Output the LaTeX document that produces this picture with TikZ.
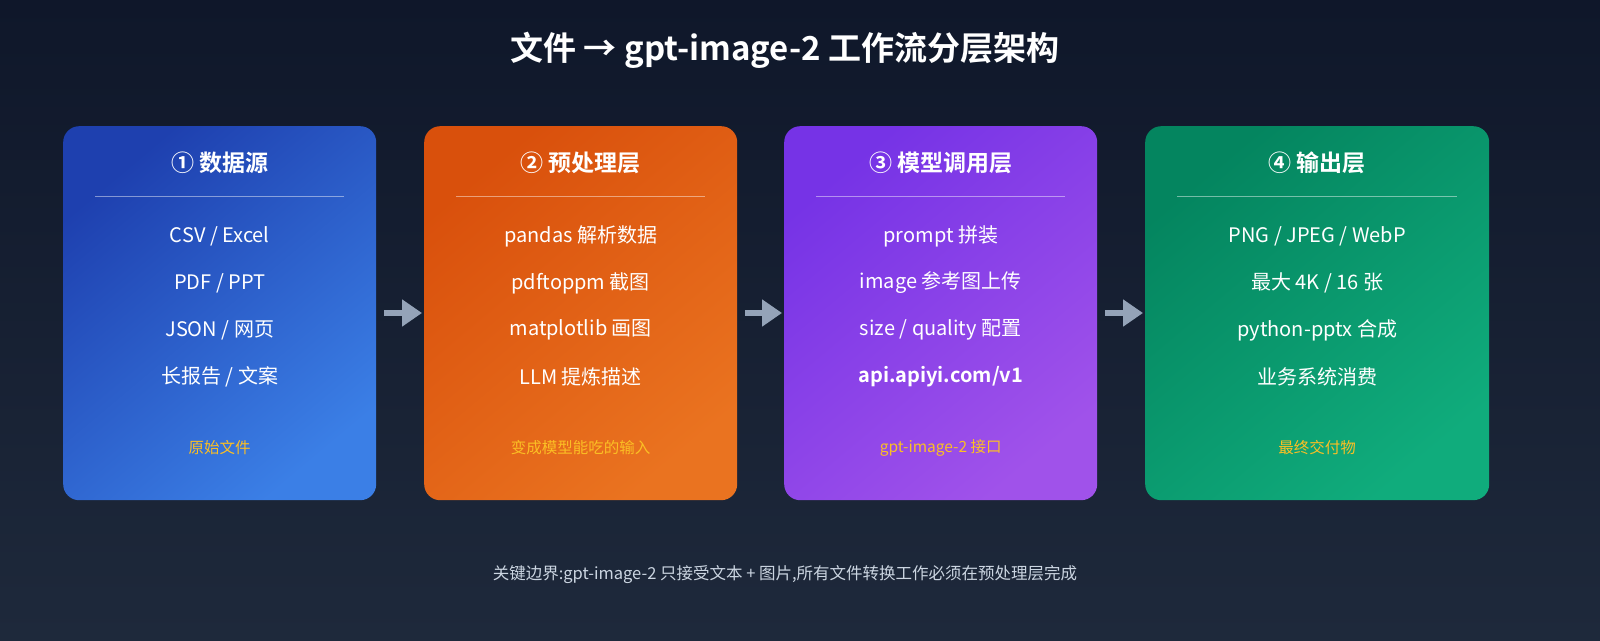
\documentclass[tikz,border=0pt]{standalone}
\usepackage{fontspec}
\setmainfont{Noto Sans CJK SC}[BoldFont={Noto Sans CJK SC Bold}]
\usetikzlibrary{arrows.meta}
\definecolor{bgA}{HTML}{0F172A}\definecolor{bgB}{HTML}{1E293B}
\definecolor{aA}{HTML}{1E40AF}\definecolor{aB}{HTML}{3B7FE6}
\definecolor{oA}{HTML}{D9500C}\definecolor{oB}{HTML}{EA7320}
\definecolor{pA}{HTML}{7633E6}\definecolor{pB}{HTML}{A052EA}
\definecolor{gA}{HTML}{04855F}\definecolor{gB}{HTML}{10AC7C}
\definecolor{ftc}{HTML}{FBBF24}\definecolor{arc}{HTML}{94A3B8}
\definecolor{note}{HTML}{CBD5E1}
\tikzset{
 box/.style={rounded corners=16pt,minimum height=374pt,anchor=north west,inner sep=0pt},
 head/.style={text=white,font=\fontsize{23}{27}\selectfont\bfseries},
 item/.style={text=white,font=\fontsize{20}{24}\selectfont},
 foot/.style={text=ftc,font=\fontsize{15.5}{18}\selectfont},
 sep/.style={draw=white,opacity=0.45,line width=1pt},
 arr/.style={draw=arc,line width=6pt,-{Triangle[length=20pt,width=26pt]}}
}
\begin{document}
\begin{tikzpicture}[x=1pt,y=-1pt]
\useasboundingbox (0,0) rectangle (1600,640);
\shade[top color=bgA,bottom color=bgB] (0,0) rectangle (1600,640);
\node[text=white,font=\fontsize{33}{38}\selectfont\bfseries] (title) at (785,50) {文件 → gpt-image-2 工作流分层架构};
\foreach \n/\x/\w/\ca/\cb/\h/\a/\b/\c/\d/\f in {
 b1/63/313/aA/aB/{① 数据源}/{CSV / Excel}/{PDF / PPT}/{JSON / 网页}/{长报告 / 文案}/原始文件,
 b2/424/313/oA/oB/{② 预处理层}/{pandas 解析数据}/{pdftoppm 截图}/{matplotlib 画图}/{LLM 提炼描述}/变成模型能吃的输入,
 b3/784/313/pA/pB/{③ 模型调用层}/{prompt 拼装}/{image 参考图上传}/{size / quality 配置}/{\textbf{api.apiyi.com/v1}}/{gpt-image-2 接口},
 b4/1145/344/gA/gB/{④ 输出层}/{PNG / JPEG / WebP}/{最大 4K / 16 张}/{python-pptx 合成}/{业务系统消费}/最终交付物}{
 \node[box,minimum width=\w pt,top color=\ca,bottom color=\cb,shading angle=40] (\n) at (\x,126) {};
 \node[head] (\n h) at ([yshift=-37pt]\n.north) {\h};
 \draw[sep] ([xshift=32pt,yshift=-70pt]\n.north west) -- ([xshift=-32pt,yshift=-70pt]\n.north east);
 \node[item] (\n i1) at ([yshift=-110pt]\n.north) {\a};
 \node[item] (\n i2) at ([yshift=-157pt]\n.north) {\b};
 \node[item] (\n i3) at ([yshift=-204pt]\n.north) {\c};
 \node[item] (\n i4) at ([yshift=-251pt]\n.north) {\d};
 \node[foot] (\n f) at ([yshift=-322pt]\n.north) {\f};
}
\foreach \p/\q in {b1/b2,b2/b3,b3/b4}{
 \draw[arr] ([xshift=8pt,yshift=-187pt]\p.north east) -- ([xshift=-2pt,yshift=-187pt]\q.north west);
}
\node[text=note,font=\fontsize{16.5}{20}\selectfont] (nt) at (785,575) {关键边界:gpt-image-2 只接受文本 + 图片,所有文件转换工作必须在预处理层完成};
\end{tikzpicture}
\end{document}
